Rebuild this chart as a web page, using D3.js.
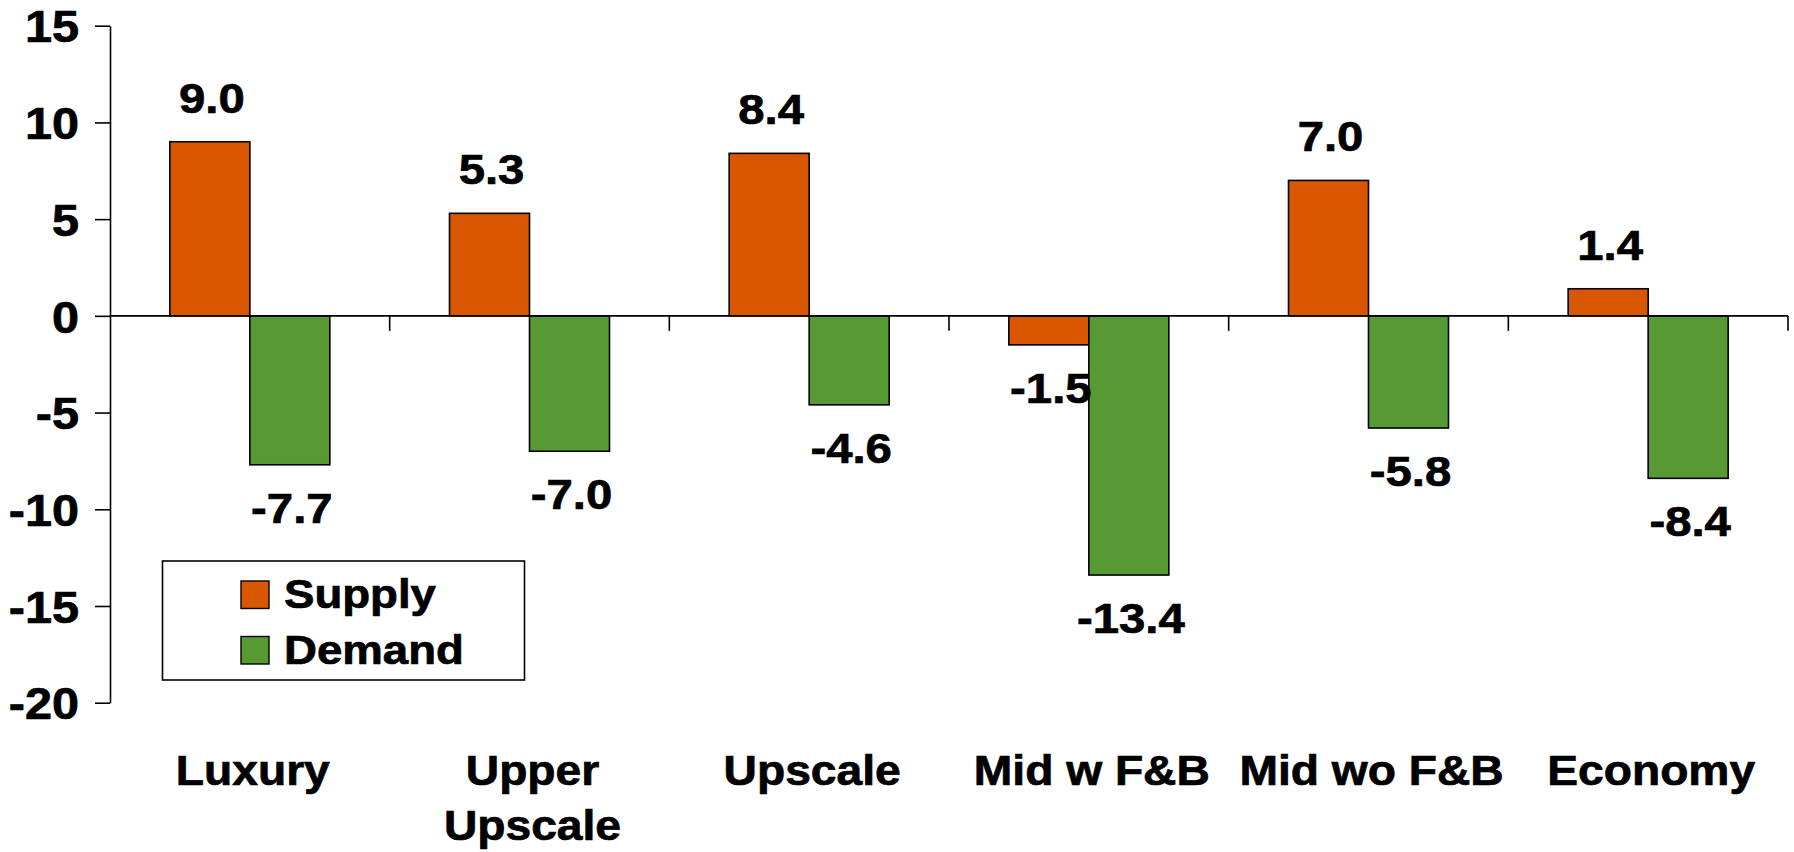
<!DOCTYPE html>
<html>
<head>
<meta charset="utf-8">
<script src="https://cdn.jsdelivr.net/npm/d3@7"></script>
<style>
  html, body { margin: 0; padding: 0; background: #ffffff; }
  svg { display: block; }
  text { font-family: "Liberation Sans", Arial, sans-serif; font-weight: bold; fill: #000; stroke: #000; stroke-width: 0.7px; }
</style>
</head>
<body>
<svg id="chart" width="1794" height="852"></svg>
<script>
const categories = ["Luxury", "Upper Upscale", "Upscale", "Mid w F&B", "Mid wo F&B", "Economy"];
const categoryLines = [["Luxury"], ["Upper", "Upscale"], ["Upscale"], ["Mid w F&B"], ["Mid wo F&B"], ["Economy"]];
const seriesNames = ["Supply", "Demand"];
const supply = [9.0, 5.3, 8.4, -1.5, 7.0, 1.4];
const demand = [-7.7, -7.0, -4.6, -13.4, -5.8, -8.4];
const yTicks = [-20, -15, -10, -5, 0, 5, 10, 15];
const colors = {Supply: "#d95700", Demand: "#579a33"};

const svg = d3.select("#chart");
const plotLeft = 110, plotRight = 1788, plotTop = 25.7, plotBottom = 702.7;

const x = d3.scaleBand().domain(categories).range([plotLeft, plotRight]).paddingInner(0).paddingOuter(0);
const xs = d3.scaleBand().domain(seriesNames).range([0, x.bandwidth()]).paddingInner(0).paddingOuter(0.748);
const y = d3.scaleLinear().domain([-20, 15]).range([plotBottom, plotTop]);

const data = [];
categories.forEach((c, i) => {
  data.push({cat: c, series: "Supply", value: supply[i]});
  data.push({cat: c, series: "Demand", value: demand[i]});
});

// bars
svg.append("g").selectAll("rect").data(data).join("rect")
  .attr("x", d => x(d.cat) + xs(d.series))
  .attr("width", xs.bandwidth())
  .attr("y", d => y(Math.max(0, d.value)))
  .attr("height", d => Math.abs(y(d.value) - y(0)))
  .attr("fill", d => colors[d.series])
  .attr("stroke", "#000")
  .attr("stroke-width", 1.6);

// zero line
svg.append("line")
  .attr("x1", plotLeft).attr("x2", plotRight)
  .attr("y1", y(0)).attr("y2", y(0))
  .attr("stroke", "#000").attr("stroke-width", 1.6);

// category boundary ticks
svg.append("g").selectAll("line").data(categories).join("line")
  .attr("x1", d => x(d) + x.bandwidth()).attr("x2", d => x(d) + x.bandwidth())
  .attr("y1", y(0)).attr("y2", y(0) + 15)
  .attr("stroke", "#000").attr("stroke-width", 1.6);

// y axis
const yAxis = svg.append("g")
  .attr("transform", `translate(${plotLeft},0)`)
  .call(d3.axisLeft(y).tickValues(yTicks).tickSize(15).tickSizeOuter(0).tickPadding(16).tickFormat(d3.format("d")));
yAxis.select(".domain").attr("stroke", "#000").attr("stroke-width", 1.6);
yAxis.selectAll(".tick line").attr("stroke", "#000").attr("stroke-width", 1.6);
yAxis.selectAll(".tick text")
  .style("font-family", "'Liberation Sans', Arial, sans-serif")
  .style("font-weight", "bold")
  .style("font-size", "45px")
  .attr("fill", "#000")
  .attr("x", 0)
  .attr("dy", "0.36em")
  .attr("transform", "translate(-31,0) scale(1.08,1)")
  .text(d => d < 0 ? "-" + Math.abs(d) : d);

// value labels
svg.append("g").selectAll("text").data(data).join("text")
  .attr("transform", d => `translate(${x(d.cat) + xs(d.series) + xs.bandwidth() / 2 + 2},${d.value >= 0 ? y(d.value) - 29 : y(d.value) + 58}) scale(1.1,1)`)
  .attr("text-anchor", "middle")
  .style("font-size", "43px")
  .text(d => (d.value < 0 ? "-" : "") + Math.abs(d.value).toFixed(1));

// category labels
const catG = svg.append("g").selectAll("text").data(categories).join("text")
  .attr("transform", d => `translate(${x(d) + x.bandwidth() / 2 + 3},785) scale(1.1,1)`)
  .attr("text-anchor", "middle")
  .style("font-size", "42px");
catG.each(function(d, i) {
  const t = d3.select(this);
  categoryLines[i].forEach((line, j) => {
    t.append("tspan")
      .attr("x", 0)
      .attr("dy", j === 0 ? 0 : 55)
      .text(line);
  });
});

// legend
const lg = svg.append("g");
lg.append("rect")
  .attr("x", 162.5).attr("y", 561).attr("width", 362).attr("height", 119)
  .attr("fill", "#fff").attr("stroke", "#000").attr("stroke-width", 1.6);
seriesNames.forEach((s, i) => {
  lg.append("rect")
    .attr("x", 241).attr("y", 581 + i * 55.5).attr("width", 28).attr("height", 27.5)
    .attr("fill", colors[s]).attr("stroke", "#000").attr("stroke-width", 1.4);
  lg.append("text")
    .attr("transform", `translate(284,${608 + i * 55.5}) scale(1.14,1)`)
    .style("font-size", "40px")
    .text(s);
});
</script>
</body>
</html>
